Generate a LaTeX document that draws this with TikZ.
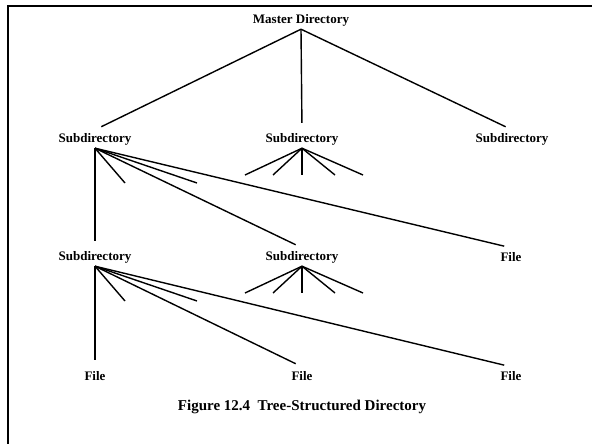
\documentclass[tikz,border=0pt]{standalone}
\usepackage{fontspec}
\setmainfont{Liberation Serif}
\begin{document}
\begin{tikzpicture}[x=1pt,y=-1pt,
  lbl/.style={font=\fontsize{13}{15}\selectfont\bfseries, inner sep=0pt, minimum height=18pt},
  link/.style={line width=1.4pt},
  into/.style={link, shorten >=7pt}]
\useasboundingbox (0,0) rectangle (592,444);
% frame on top and left
\draw[line width=2.6pt] (8,444) -- (8,6) -- (593,6);

% level 0
\node[lbl] (m) at (301,20) {Master Directory};
% level 1
\node[lbl] (s1a) at (95,139) {Subdirectory};
\node[lbl] (s1b) at (302,139) {Subdirectory};
\node[lbl] (s1c) at (512,139) {Subdirectory};
% level 2
\node[lbl] (s2a) at (95,257) {Subdirectory};
\node[lbl] (s2b) at (302,257) {Subdirectory};
\node[lbl] (f2c) at (511,257) {File};
% level 3
\node[lbl] (f3a) at (95,376) {File};
\node[lbl] (f3b) at (302,376) {File};
\node[lbl] (f3c) at (511,376) {File};

% master directory links
\draw[into] (m.south) -- (s1a.north);
\draw[into] (m.south) -- (s1b.north);
\draw[into] (m.south) -- (s1c.north);

% stub ends (entries not shown)
\coordinate (a1) at (125,183);
\coordinate (a2) at (197,183);
\coordinate (b1) at (245,175);
\coordinate (b2) at (273,175);
\coordinate (b3) at (302,175);
\coordinate (b4) at (335,175);
\coordinate (b5) at (363,175);
\coordinate (c1) at (125,301);
\coordinate (c2) at (197,301);
\coordinate (d1) at (245,293);
\coordinate (d2) at (273,293);
\coordinate (d3) at (302,293);
\coordinate (d4) at (335,293);
\coordinate (d5) at (363,293);

% first-level subdirectory on the left
\draw[into] (s1a.south) -- (s2a.north);
\draw[link] (s1a.south) -- (a1);
\draw[link] (s1a.south) -- (a2);
\draw[into] (s1a.south) -- (s2b.north);
\draw[into] (s1a.south) -- (f2c.north);
% first-level subdirectory in the middle
\foreach \e in {b1,b2,b3,b4,b5} \draw[link] (s1b.south) -- (\e);

% second-level subdirectory on the left
\draw[into] (s2a.south) -- (f3a.north);
\draw[link] (s2a.south) -- (c1);
\draw[link] (s2a.south) -- (c2);
\draw[into] (s2a.south) -- (f3b.north);
\draw[into] (s2a.south) -- (f3c.north);
% second-level subdirectory in the middle
\foreach \e in {d1,d2,d3,d4,d5} \draw[link] (s2b.south) -- (\e);

% caption
\node[lbl, font=\fontsize{15}{17}\selectfont\bfseries] (cap) at (302,407) {Figure 12.4\ \ Tree-Structured Directory};
\end{tikzpicture}
\end{document}
